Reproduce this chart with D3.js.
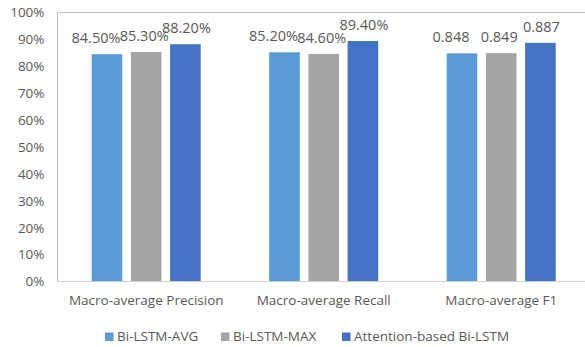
<!DOCTYPE html>
<html>
<head>
<meta charset="utf-8">
<script src="https://cdn.jsdelivr.net/npm/d3@7/dist/d3.min.js"></script>
<style>
  html, body { margin: 0; padding: 0; background: #fff; }
  svg { display: block; font-family: "Open Sans", "Noto Sans", sans-serif; }
</style>
</head>
<body>
<svg id="chart" width="585" height="347"></svg>
<script>
// Metric groups along the x axis
const categories = ["Macro-average Precision", "Macro-average Recall", "Macro-average F1"];
// Model variants, one bar per metric
const seriesNames = ["Bi-LSTM-AVG", "Bi-LSTM-MAX", "Attention-based Bi-LSTM"];
// Scores per model (fractions of 1), ordered as categories
const avgValues = [0.845, 0.852, 0.848];
const maxValues = [0.853, 0.846, 0.849];
const attnValues = [0.882, 0.894, 0.887];
// Value labels as printed above each bar
const avgLabels = ["84.50%", "85.20%", "0.848"];
const maxLabels = ["85.30%", "84.60%", "0.849"];
const attnLabels = ["88.20%", "89.40%", "0.887"];
// Y axis ticks
const yTicks = [0, 0.1, 0.2, 0.3, 0.4, 0.5, 0.6, 0.7, 0.8, 0.9, 1.0];

const colors = ["#5B9BD5", "#A5A5A5", "#4472C4"];
const textColor = "#595959";

const series = [
  { name: seriesNames[0], values: avgValues, labels: avgLabels },
  { name: seriesNames[1], values: maxValues, labels: maxLabels },
  { name: seriesNames[2], values: attnValues, labels: attnLabels }
];

const svg = d3.select("#chart");
const plot = { left: 57.5, right: 590, top: 12.5, bottom: 281.5 };

const x0 = d3.scaleBand().domain(categories).range([plot.left, plot.right]).paddingInner(0).paddingOuter(0);
const x1 = d3.scaleBand().domain(d3.range(series.length)).range([88.7 - 54.5, 88.7 + 54.5]).paddingInner(0.22).paddingOuter(0);
const y = d3.scaleLinear().domain([0, 1]).range([plot.bottom, plot.top]);

// Plot frame
svg.append("path")
  .attr("d", `M${plot.right},${plot.top}H${plot.left}V${plot.bottom}`)
  .attr("fill", "none").attr("stroke", "#BFBFBF").attr("stroke-width", 1);

// Y axis labels
const yAxis = d3.axisLeft(y).tickValues(yTicks).tickFormat(d3.format(".0%")).tickSize(0).tickPadding(13);
const gy = svg.append("g").attr("transform", `translate(${plot.left},0)`).call(yAxis);
gy.select(".domain").remove();
gy.selectAll("text").attr("fill", textColor).style("font-size", "13.5px").style("font-family", "Open Sans, sans-serif");

// Bars
const groups = svg.append("g").selectAll("g")
  .data(categories)
  .join("g")
  .attr("transform", d => `translate(${x0(d)},0)`);

groups.selectAll("rect")
  .data((c, ci) => series.map((s, si) => ({ si, v: s.values[ci], label: s.labels[ci] })))
  .join("rect")
  .attr("x", d => x1(d.si))
  .attr("width", x1.bandwidth())
  .attr("y", d => y(d.v))
  .attr("height", d => y(0) - y(d.v))
  .attr("fill", d => colors[d.si]);

// Value labels, nudged sideways so neighbours do not collide
const labelShift = [-11, -2, 1];
groups.selectAll("text.val")
  .data((c, ci) => series.map((s, si) => ({ si, v: s.values[ci], label: s.labels[ci] })))
  .join("text")
  .attr("class", "val")
  .attr("x", d => x1(d.si) + x1.bandwidth() / 2 + labelShift[d.si])
  .attr("y", d => y(d.v) - 11)
  .attr("text-anchor", "middle")
  .attr("fill", textColor)
  .style("font-size", "14.5px")
  .text(d => d.label);

// Bottom axis line
svg.append("line")
  .attr("x1", plot.left).attr("x2", plot.right)
  .attr("y1", plot.bottom).attr("y2", plot.bottom)
  .attr("stroke", "#D0D0D0").attr("stroke-width", 1.2);

// Category labels
const xAxis = d3.axisBottom(x0).tickSize(0).tickPadding(14);
const gx = svg.append("g").attr("transform", `translate(0,${plot.bottom})`).call(xAxis);
gx.select(".domain").remove();
gx.selectAll("text").attr("fill", textColor).style("font-size", "13.5px").style("font-family", "Open Sans, sans-serif");

// Legend
const legendX = [105, 221, 342];
const legend = svg.append("g").selectAll("g")
  .data(series)
  .join("g")
  .attr("transform", (d, i) => `translate(${legendX[i]},332.5)`);
legend.append("rect").attr("width", 8.5).attr("height", 8.5).attr("fill", (d, i) => colors[i]);
legend.append("text")
  .attr("x", 12).attr("y", 8.5)
  .attr("fill", textColor)
  .style("font-size", "13.5px")
  .text(d => d.name);
</script>
</body>
</html>
